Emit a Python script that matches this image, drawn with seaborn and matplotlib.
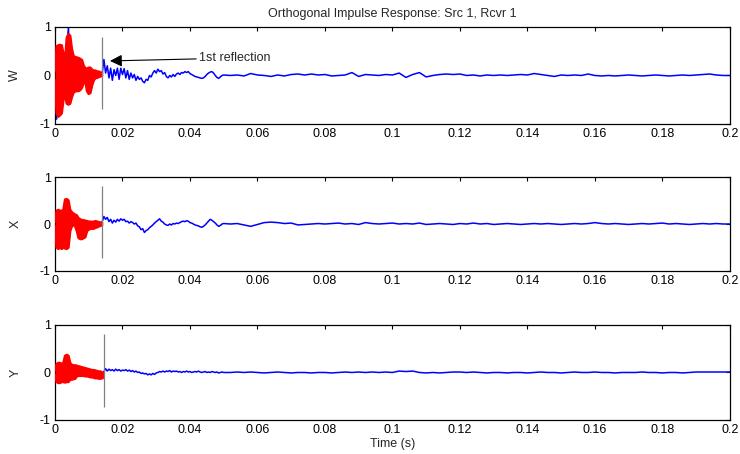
import numpy as np
import pandas as pd
import matplotlib
matplotlib.use("Agg")
import matplotlib.pyplot as plt
import seaborn as sns

# channel names and tick labels
channels = ["W", "X", "Y"]
x_ticks = [0, 0.02, 0.04, 0.06, 0.08, 0.1, 0.12, 0.14, 0.16, 0.18, 0.2]
x_tick_labels = ["0", "0.02", "0.04", "0.06", "0.08", "0.1", "0.12", "0.14", "0.16", "0.18", "0.2"]
y_ticks = [-1, 0, 1]
y_tick_labels = ["-1", "0", "1"]

# blue trace, 0 .. 0.05 s every 0.5 ms
w_early = [0.0, -0.9, 0.5, -0.6, 0.4, -0.3, 0.2, 0.6, 1.0, -0.5,
           0.4, -0.3, 0.3, -0.25, 0.3, -0.2, 0.2, -0.1, 0.1, -0.3,
           0.1, -0.3, 0.1, -0.05, 0.05, -0.03, 0.05, 0.0, 0.05, 0.33,
           0.05, 0.2, -0.05, 0.15, -0.1, 0.12, 0.0, 0.15, -0.08, 0.15,
           0.02, 0.14, -0.05, 0.1, -0.08, 0.05, -0.05, 0.02, -0.1, -0.02,
           -0.08, -0.05, -0.12, -0.15, -0.08, -0.1, 0.0, -0.03, 0.05, 0.1,
           0.05, 0.13, 0.08, 0.1, 0.03, 0.06, -0.02, -0.05, 0.0, -0.03,
           0.02, -0.02, 0.03, 0.05, 0.02, 0.06, 0.05, 0.08, 0.06, 0.08,
           0.04, 0.02, 0.0, -0.02, -0.03, -0.04, -0.05, -0.06, -0.05, -0.02,
           0.02, 0.05, 0.07, 0.08, 0.05, 0.0, -0.04, -0.06, -0.03, 0.0,
           0.01]
x_early = [0.0, 0.2, -0.4, 0.2, -0.4, 0.2, 0.4, -0.4, 0.4, -0.1,
           0.1, 0.0, 0.1, -0.1, -0.2, 0.0, -0.2, 0.0, -0.2, 0.0,
           -0.05, 0.0, -0.05, 0.0, -0.03, 0.0, -0.02, 0.0, 0.05, 0.16,
           0.1, 0.14, 0.05, 0.1, 0.02, 0.08, 0.04, 0.1, 0.06, 0.11,
           0.08, 0.1, 0.05, 0.06, 0.02, 0.05, 0.03, 0.0, 0.02, -0.04,
           -0.06, -0.12, -0.1, -0.18, -0.14, -0.12, -0.08, -0.05, -0.02, 0.02,
           0.05, 0.08, 0.11, 0.06, 0.04, 0.0, -0.02, -0.03, 0.0, -0.02,
           0.01, 0.0, 0.02, 0.01, 0.03, 0.05, 0.06, 0.05, 0.07, 0.06,
           0.03, 0.02, 0.0, -0.02, -0.03, -0.04, -0.06, -0.07, -0.05, -0.02,
           0.02, 0.06, 0.1, 0.08, 0.05, 0.02, -0.02, -0.05, -0.03, 0.0,
           0.01]
y_early = [0.05, 0.0, -0.22, 0.15, -0.1, 0.1, 0.3, -0.1, 0.3, -0.1,
           0.1, -0.05, 0.1, -0.05, 0.08, -0.03, 0.06, -0.03, 0.05, -0.05,
           0.04, -0.05, 0.02, -0.06, 0.0, -0.08, -0.02, -0.08, -0.04, 0.02,
           0.08, 0.03, 0.07, 0.04, 0.06, 0.03, 0.07, 0.04, 0.06, 0.03,
           0.05, 0.04, 0.06, 0.03, 0.05, 0.02, 0.04, 0.01, 0.03, 0.0,
           0.01, -0.02, -0.01, -0.03, -0.02, -0.05, -0.03, -0.05, -0.02, -0.04,
           -0.01, 0.0, 0.02, 0.01, 0.03, 0.01, 0.03, 0.02, 0.04, 0.01,
           0.03, 0.02, 0.03, 0.01, 0.02, 0.0, 0.02, 0.01, 0.03, 0.01,
           0.02, 0.0, 0.01, 0.02, 0.01, 0.03, 0.01, 0.0, 0.01, 0.02,
           0.0, 0.01, 0.0, 0.02, 0.01, 0.0, 0.01, -0.01, 0.0, 0.01,
           0.0]

# blue trace, 0.052 .. 0.2 s every 2 ms
w_late = [0.0, 0.01, -0.01, 0.04, 0.01, 0.0, -0.02, 0.01, -0.01, 0.02,
          0.03, 0.01, 0.03, 0.01, 0.02, -0.01, 0.0, 0.01, 0.06, -0.02,
          0.02, 0.01, 0.0, 0.02, 0.01, 0.05, -0.04, 0.02, 0.06, -0.03,
          0.0, 0.02, 0.03, 0.02, 0.03, 0.0, 0.01, -0.01, 0.01, 0.0,
          0.01, 0.0, 0.01, 0.02, 0.01, 0.04, 0.02, 0.0, -0.02, 0.01,
          0.0, 0.01, 0.0, 0.03, 0.0, -0.01, 0.0, -0.01, 0.0, 0.01,
          0.0, -0.01, 0.0, 0.01, 0.0, -0.01, 0.0, 0.01, 0.0, 0.01,
          0.02, 0.03, 0.01, 0.0, 0.0]
x_late = [0.0, 0.01, -0.02, -0.05, -0.01, 0.03, 0.04, 0.03, 0.01, 0.02,
          -0.02, -0.01, 0.0, 0.01, 0.0, 0.01, 0.02, 0.0, 0.01, -0.01,
          0.03, 0.01, 0.0, 0.01, 0.02, 0.0, 0.01, 0.0, 0.02, -0.01,
          0.0, 0.01, 0.0, -0.01, 0.01, 0.0, 0.02, 0.0, 0.01, -0.01,
          0.0, 0.01, 0.0, -0.01, 0.0, 0.01, 0.0, 0.01, 0.0, -0.01,
          0.0, 0.01, 0.0, 0.01, 0.03, 0.01, 0.0, 0.01, 0.0, -0.01,
          0.0, 0.01, 0.0, 0.01, 0.02, 0.0, 0.01, 0.0, -0.01, 0.0,
          0.01, 0.0, 0.01, 0.0, 0.0]
y_late = [0.0, 0.01, 0.0, 0.01, 0.0, -0.01, 0.0, 0.01, 0.0, -0.01,
          0.0, 0.0, -0.01, 0.0, 0.0, -0.01, 0.0, 0.01, 0.0, 0.01,
          0.0, 0.01, 0.0, 0.01, 0.0, 0.03, 0.02, 0.03, 0.0, -0.01,
          0.0, -0.01, 0.0, 0.01, 0.01, 0.0, 0.01, 0.0, -0.01, 0.0,
          0.0, -0.01, 0.0, 0.0, -0.01, 0.0, 0.01, 0.0, 0.0, -0.01,
          0.0, 0.01, 0.0, 0.0, 0.01, 0.0, 0.0, -0.01, 0.0, 0.0,
          0.0, 0.01, 0.0, 0.0, -0.01, 0.0, 0.0, -0.01, 0.0, 0.01,
          0.01, 0.01, 0.01, 0.01, 0.01]

# red direct-sound part: upper / lower envelope every 0.5 ms
w_red_up = [0.1, 0.6, 0.62, 0.63, 0.62, 0.45, 0.3, 0.78, 0.85, 0.82,
            0.55, 0.4, 0.38, 0.37, 0.36, 0.34, 0.32, 0.2, 0.15, 0.14,
            0.16, 0.16, 0.12, 0.1, 0.1, 0.08, 0.08, 0.06, 0.05]
w_red_lo = [-0.1, -0.78, -0.85, -0.82, -0.78, -0.5, -0.4, -0.58, -0.6, -0.58,
            -0.45, -0.35, -0.33, -0.32, -0.32, -0.3, -0.25, -0.15, -0.12, -0.32,
            -0.38, -0.36, -0.2, -0.1, -0.05, -0.05, -0.03, -0.02, 0.0]
x_red_up = [0.05, 0.28, 0.3, 0.28, 0.28, 0.3, 0.52, 0.53, 0.5, 0.3,
            0.25, 0.22, 0.2, 0.18, 0.12, 0.1, 0.08, 0.08, 0.07, 0.06,
            0.05, 0.05, 0.04, 0.05, 0.06, 0.05, 0.04, 0.03, 0.02]
x_red_lo = [-0.05, -0.5, -0.53, -0.5, -0.53, -0.5, -0.52, -0.53, -0.5, -0.15,
            -0.05, -0.02, -0.05, -0.15, -0.3, -0.32, -0.32, -0.3, -0.28, -0.15,
            -0.12, -0.1, -0.1, -0.1, -0.08, -0.07, -0.05, -0.04, -0.02]
y_red_up = [0.05, 0.18, 0.2, 0.2, 0.18, 0.2, 0.35, 0.37, 0.35, 0.2,
            0.16, 0.15, 0.15, 0.14, 0.13, 0.12, 0.11, 0.1, 0.09, 0.08,
            0.07, 0.06, 0.05, 0.05, 0.04, 0.03, 0.02, 0.02, 0.0, -0.02]
y_red_lo = [-0.05, -0.2, -0.22, -0.22, -0.2, -0.2, -0.21, -0.2, -0.2, -0.15,
            -0.15, -0.14, -0.13, -0.08, -0.07, -0.07, -0.07, -0.07, -0.08, -0.08,
            -0.09, -0.1, -0.1, -0.11, -0.12, -0.12, -0.13, -0.13, -0.12, -0.1]

# grey marker line at the first reflection
refl_t = [0.0138, 0.0138, 0.0145]
refl_lo = [-0.7, -0.73, -0.73]
refl_hi = [0.8, 0.81, 0.81]

t_early = np.round(np.arange(101) * 0.0005, 4)
t_late = np.round(0.052 + np.arange(75) * 0.002, 4)

blue = {"W": w_early + w_late, "X": x_early + x_late, "Y": y_early + y_late}
red = {"W": (w_red_up, w_red_lo), "X": (x_red_up, x_red_lo), "Y": (y_red_up, y_red_lo)}

frames = []
for ch in channels:
    frames.append(pd.DataFrame({"t": np.concatenate([t_early, t_late]),
                                "v": blue[ch], "ch": ch}))
df = pd.concat(frames, ignore_index=True)

sns.set_style("white")
plt.rcParams["font.family"] = ["Liberation Sans", "DejaVu Sans"]

fig = plt.figure(figsize=(7.4, 4.54), dpi=100)
boxes = [[0.0743, 0.7269, 0.912, 0.2137],
         [0.0743, 0.4031, 0.912, 0.2070],
         [0.0743, 0.0749, 0.912, 0.2093]]

for i, ch in enumerate(channels):
    ax = fig.add_axes(boxes[i])
    sub = df[df["ch"] == ch]
    sns.lineplot(data=sub, x="t", y="v", ax=ax, color="#0000ff", lw=1.1,
                 estimator=None, sort=False)
    up, lo = red[ch]
    tr = np.arange(len(up)) * 0.0005
    ax.fill_between(tr, lo, up, color="#ff0000", lw=0, zorder=3)
    ax.plot(tr, up, color="#ff0000", lw=1.8, zorder=3)
    ax.plot(tr, lo, color="#ff0000", lw=1.8, zorder=3)
    ax.vlines(refl_t[i], refl_lo[i], refl_hi[i], color="#808080", lw=0.9, zorder=4)

    ax.set_xlim(0, 0.2)
    ax.set_ylim(-1, 1)
    ax.set_xticks(x_ticks)
    ax.set_xticklabels(x_tick_labels)
    ax.set_yticks(y_ticks)
    ax.set_yticklabels(y_tick_labels)
    ax.tick_params(direction="in", top=True, right=True, length=3,
                   labelsize=9, colors="black", pad=3)
    for s in ax.spines.values():
        s.set_visible(True)
        s.set_color("black")
        s.set_linewidth(0.9)
    ax.set_ylabel(ch, fontsize=9)
    ax.yaxis.set_label_coords(-0.05, 0.5)
    ax.set_xlabel("Time (s)" if i == 2 else "", fontsize=9, labelpad=1)

    if i == 0:
        ax.set_title("Orthogonal Impulse Response: Src 1, Rcvr 1", fontsize=9, pad=7)
        ax.annotate("1st reflection", xy=(0.0163, 0.3), xytext=(0.0428, 0.36),
                    fontsize=9, va="center", ha="left",
                    arrowprops=dict(arrowstyle="-|>", color="black", lw=0.8,
                                    mutation_scale=18, shrinkA=0, shrinkB=0))

fig.savefig("out.png", dpi=100)
